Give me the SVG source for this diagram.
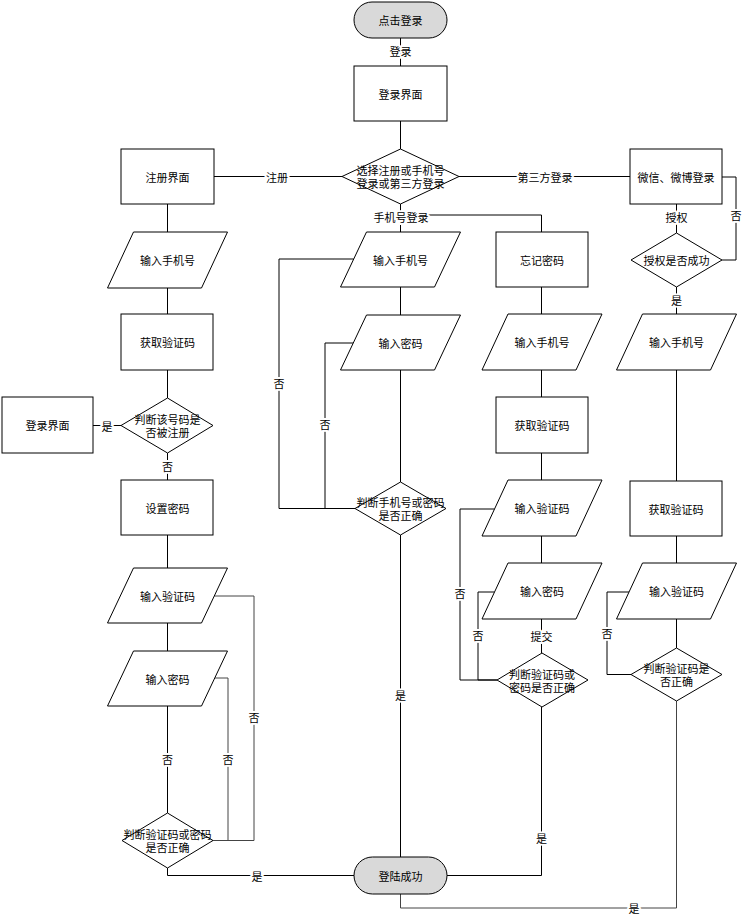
<svg xmlns="http://www.w3.org/2000/svg" width="748" height="919" viewBox="0 0 748 919">
<style>
text{font-family:"Noto Sans CJK SC","Noto Sans",sans-serif;font-size:11px;fill:#000;text-anchor:middle;dominant-baseline:central}
.n{fill:#fff;stroke:#000;stroke-width:1}
.t{fill:#d9d9d9;stroke:#000;stroke-width:1}
.e{fill:none;stroke:#000;stroke-width:1}
.g{fill:none;stroke:#444;stroke-width:1}
.l{stroke:#fff;stroke-width:4;paint-order:stroke;stroke-linejoin:round}
</style>
<rect width="748" height="919" fill="#fff"/>
<g id="connectors">
<path class="e" d="M400.5 38V66"/>
<path class="e" d="M400.5 121V149"/>
<path class="e" d="M342 176.5H214"/>
<path class="e" d="M459 176.5H630"/>
<path class="e" d="M400.5 204V232"/>
<path class="e" d="M400.5 215H541.5V232"/>
<path class="e" d="M167.5 204V232"/>
<path class="e" d="M167.5 288V314"/>
<path class="e" d="M167.5 370V398"/>
<path class="e" d="M121 425.5H93"/>
<path class="e" d="M167.5 453V480"/>
<path class="e" d="M167.5 535V568"/>
<path class="e" d="M167.5 623V651"/>
<path class="e" d="M167.5 706V813"/>
<path class="g" d="M213 840.5H228V678H214.7"/>
<path class="g" d="M213 840.5H254V596H214.3"/>
<path class="e" d="M167.5 868V875.5H354"/>
<path class="e" d="M400.5 287V315"/>
<path class="e" d="M400.5 370V482"/>
<path class="e" d="M355 508.5H279V259H353.7"/>
<path class="e" d="M355 508.5H325V343H353.3"/>
<path class="e" d="M400.5 535V857"/>
<path class="e" d="M541.5 287V314"/>
<path class="e" d="M541.5 370V397"/>
<path class="e" d="M541.5 453V480"/>
<path class="e" d="M541.5 536V563"/>
<path class="e" d="M541.5 619V653"/>
<path class="e" d="M497 680H460V509H494.5"/>
<path class="e" d="M497 680H478V592H494.5"/>
<path class="e" d="M541.5 707V875.5H447"/>
<path class="e" d="M676.5 204V233"/>
<path class="e" d="M722 260H736V177H722"/>
<path class="e" d="M676.5 287V314"/>
<path class="e" d="M676.5 370V481"/>
<path class="e" d="M676.5 536V563"/>
<path class="e" d="M676.5 619V648"/>
<path class="e" d="M631 674.5H607V592H629"/>
<path class="g" d="M676.5 701V908H400.5V894"/>
<text class="l" x="400.5" y="51">登录</text>
<text class="l" x="277" y="176.5">注册</text>
<text class="l" x="545" y="176.5">第三方登录</text>
<text class="l" x="401" y="217">手机号登录</text>
<text class="l" x="107" y="425.5">是</text>
<text class="l" x="167.5" y="466">否</text>
<text class="l" x="167.5" y="759">否</text>
<text class="l" x="228" y="759">否</text>
<text class="l" x="254" y="717">否</text>
<text class="l" x="257" y="875.5">是</text>
<text class="l" x="279" y="383">否</text>
<text class="l" x="325" y="424">否</text>
<text class="l" x="400.5" y="695">是</text>
<text class="l" x="541.5" y="636">提交</text>
<text class="l" x="460" y="593">否</text>
<text class="l" x="478" y="635">否</text>
<text class="l" x="541.5" y="838">是</text>
<text class="l" x="676.5" y="217">授权</text>
<text class="l" x="736" y="215">否</text>
<text class="l" x="676.5" y="300">是</text>
<text class="l" x="607" y="633">否</text>
<text class="l" x="634" y="908">是</text>
</g>
<g id="start"><rect class="t" x="354" y="2" width="93" height="36" rx="18"/><text x="400.5" y="20">点击登录</text></g>
<g id="login-ui"><rect class="n" x="354" y="66" width="93" height="55"/><text x="400.5" y="93.5">登录界面</text></g>
<g id="choose"><polygon class="n" points="400.5,149 459,176.5 400.5,204 342,176.5"/><text x="400.5" y="170">选择注册或手机号<tspan x="400.5" dy="13">登录或第三方登录</tspan></text></g>
<g id="reg-ui"><rect class="n" x="121" y="149" width="93" height="55"/><text x="167.5" y="176.5">注册界面</text></g>
<g id="a-phone"><polygon class="n" points="133.5,232 227.5,232 201.5,288 107.5,288"/><text x="167.5" y="260">输入手机号</text></g>
<g id="a-code"><rect class="n" x="121" y="314" width="92" height="56"/><text x="167.5" y="342">获取验证码</text></g>
<g id="a-check"><polygon class="n" points="167.5,398 213,425.5 167.5,453 121,425.5"/><text x="167.5" y="419">判断该号码是<tspan x="167.5" dy="13">否被注册</tspan></text></g>
<g id="a-login-ui"><rect class="n" x="2" y="397" width="91" height="56"/><text x="47.5" y="425">登录界面</text></g>
<g id="a-setpwd"><rect class="n" x="121" y="480" width="92" height="55"/><text x="167.5" y="507.5">设置密码</text></g>
<g id="a-incode"><polygon class="n" points="133.5,568 227.5,568 201.5,623 107.5,623"/><text x="167.5" y="595.5">输入验证码</text></g>
<g id="a-inpwd"><polygon class="n" points="133.5,651 227.5,651 201.5,706 107.5,706"/><text x="167.5" y="678.5">输入密码</text></g>
<g id="a-verify"><polygon class="n" points="167.5,813 213,840.5 167.5,868 122,840.5"/><text x="167.5" y="834">判断验证码或密码<tspan x="167.5" dy="13">是否正确</tspan></text></g>
<g id="b-phone"><polygon class="n" points="366.5,232 460.5,232 434.5,287 340.5,287"/><text x="400.5" y="259.5">输入手机号</text></g>
<g id="b-pwd"><polygon class="n" points="366.5,315 460.5,315 434.5,370 340.5,370"/><text x="400.5" y="342.5">输入密码</text></g>
<g id="b-verify"><polygon class="n" points="400.5,482 446,508.5 400.5,535 355,508.5"/><text x="400.5" y="502">判断手机号或密码<tspan x="400.5" dy="13">是否正确</tspan></text></g>
<g id="success"><rect class="t" x="354" y="857" width="93" height="37" rx="18.5"/><text x="400.5" y="875.5">登陆成功</text></g>
<g id="c-forgot"><rect class="n" x="496" y="232" width="92" height="55"/><text x="542" y="259.5">忘记密码</text></g>
<g id="c-phone"><polygon class="n" points="508,314 602,314 576,370 482,370"/><text x="542" y="342">输入手机号</text></g>
<g id="c-code"><rect class="n" x="496" y="397" width="92" height="56"/><text x="542" y="425">获取验证码</text></g>
<g id="c-incode"><polygon class="n" points="508,480 602,480 576,536 482,536"/><text x="542" y="508">输入验证码</text></g>
<g id="c-inpwd"><polygon class="n" points="508,563 602,563 576,619 482,619"/><text x="542" y="591">输入密码</text></g>
<g id="c-verify"><polygon class="n" points="542,653 588,680 542,707 497,680"/><text x="542" y="673.5">判断验证码或<tspan x="542" dy="13">密码是否正确</tspan></text></g>
<g id="d-wechat"><rect class="n" x="630" y="149" width="92" height="55"/><text x="676" y="176.5">微信、微博登录</text></g>
<g id="d-auth"><polygon class="n" points="676.5,233 722,260 676.5,287 631,260"/><text x="676.5" y="260">授权是否成功</text></g>
<g id="d-phone"><polygon class="n" points="642.5,314 736.5,314 710.5,370 616.5,370"/><text x="676.5" y="342">输入手机号</text></g>
<g id="d-code"><rect class="n" x="630" y="481" width="92" height="55"/><text x="676" y="508.5">获取验证码</text></g>
<g id="d-incode"><polygon class="n" points="642.5,563 736.5,563 710.5,619 616.5,619"/><text x="676.5" y="591">输入验证码</text></g>
<g id="d-verify"><polygon class="n" points="676.5,648 722,674.5 676.5,701 631,674.5"/><text x="676.5" y="668">判断验证码是<tspan x="676.5" dy="13">否正确</tspan></text></g>
</svg>
